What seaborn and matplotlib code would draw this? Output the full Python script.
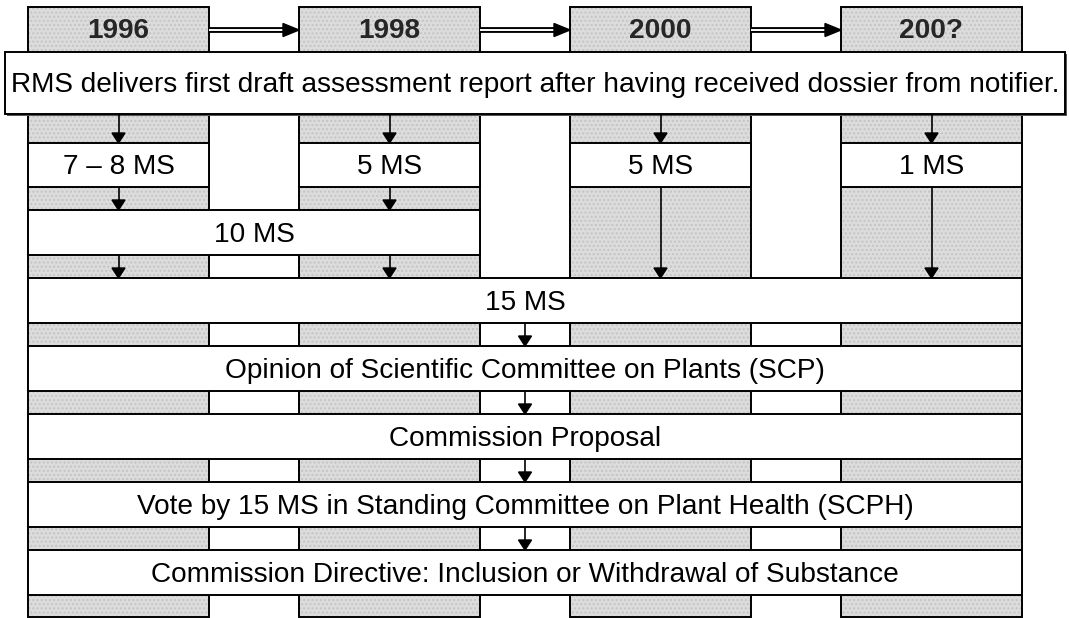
import matplotlib
matplotlib.use("Agg")
import matplotlib.pyplot as plt
import seaborn as sns
from matplotlib.patches import Rectangle, Polygon

sns.set_style("white")
plt.rcParams["font.family"] = ["Liberation Sans", "DejaVu Sans"]

years = ["1996", "1998", "2000", "200?"]
intro_text = "RMS delivers first draft assessment report after having received dossier from notifier."
first_round = ["7 – 8 MS", "5 MS", "5 MS", "1 MS"]
merged_two = "10 MS"
merged_all = "15 MS"
final_steps = [
    "Opinion of Scientific Committee on Plants (SCP)",
    "Commission Proposal",
    "Vote by 15 MS in Standing Committee on Plant Health (SCPH)",
    "Commission Directive: Inclusion or Withdrawal of Substance",
]

W, H = 1069, 618
fig = plt.figure(figsize=(W / 100, H / 100), dpi=100)
ax = fig.add_axes([0, 0, 1, 1])
ax.set_xlim(0, W)
ax.set_ylim(H, 0)
ax.axis("off")

col_x0, col_w, col_step = 28, 181, 271
col_top, col_bot = 7, 617
centers = [col_x0 + i * col_step + col_w / 2 for i in range(len(years))]
fs = 20.2
lw = 1.4


def box(x0, x1, y0, y1, label=None, z=3):
    ax.add_patch(Rectangle((x0, y0), x1 - x0, y1 - y0, facecolor="white",
                           edgecolor="black", lw=lw, zorder=z))
    if label:
        ax.text((x0 + x1) / 2, (y0 + y1) / 2 + 2, label, ha="center", va="center",
                fontsize=fs, color="black", zorder=z + 1)


def down_arrow(x, y0, y1):
    ax.plot([x, x], [y0, y1 - 9], color="black", lw=1.2, zorder=6)
    ax.add_patch(Polygon([(x - 6.5, y1 - 10), (x + 6.5, y1 - 10), (x, y1)],
                         closed=True, color="black", zorder=6))


# stippled year columns
for i, yr in enumerate(years):
    x0 = col_x0 + i * col_step
    ax.add_patch(Rectangle((x0, col_top), col_w, col_bot - col_top, facecolor="#dcdcdc",
                           edgecolor="#c4c4c4", hatch="....", lw=0, zorder=1))
    ax.add_patch(Rectangle((x0, col_top), col_w, col_bot - col_top, fill=False,
                           edgecolor="black", lw=lw, zorder=2))
    ax.text(centers[i], 31.5, yr, ha="center", va="center", fontsize=fs,
            fontweight="bold", zorder=4)

# double arrows between years
for i in range(len(years) - 1):
    xa = col_x0 + i * col_step + col_w
    xb = col_x0 + (i + 1) * col_step
    ax.plot([xa, xb - 14], [30, 30], color="black", lw=4.2, solid_capstyle="butt", zorder=3)
    ax.plot([xa, xb - 14], [30, 30], color="white", lw=1.4, solid_capstyle="butt", zorder=4)
    ax.add_patch(Polygon([(xb - 16, 23.5), (xb - 16, 36.5), (xb, 30)], closed=True,
                         color="black", zorder=5))

# intro box with small shadow
ax.add_patch(Rectangle((7, 54), 1060, 62, facecolor="#555555", edgecolor="none", zorder=3))
box(5, 1065, 52, 114, intro_text, z=3)

# first round per year
for i, lab in enumerate(first_round):
    x0 = col_x0 + i * col_step
    box(x0, x0 + col_w, 143, 187, lab)
    down_arrow(centers[i], 114, 143)

# two early years merged
box(col_x0, col_x0 + col_step + col_w, 210, 255, merged_two)
for c in centers[:2]:
    down_arrow(c, 187, 210)
    down_arrow(c, 255, 278)
for c in centers[2:]:
    down_arrow(c, 187, 278)

# all member states
full_x1 = col_x0 + 3 * col_step + col_w
box(col_x0, full_x1, 278, 323, merged_all)
mid = (col_x0 + full_x1) / 2
prev_bottom = 323
for k, lab in enumerate(final_steps):
    y0 = 346 + k * 68
    box(col_x0, full_x1, y0, y0 + 45, lab)
    down_arrow(mid, prev_bottom, y0)
    prev_bottom = y0 + 45

fig.savefig("out.png", dpi=100)
